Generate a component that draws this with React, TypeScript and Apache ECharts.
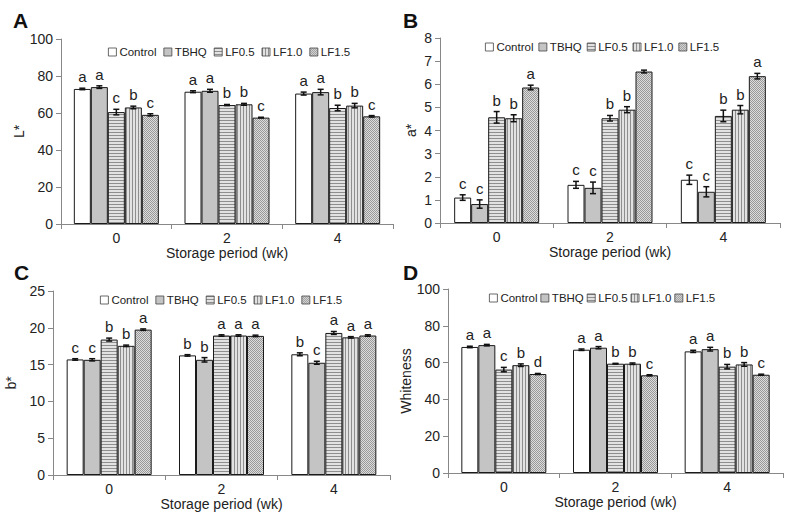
import React, { useEffect, useRef } from 'react';
import * as echarts from 'echarts';

const categories = ['0', '2', '4'];
const seriesNames = ['Control', 'TBHQ', 'LF0.5', 'LF1.0', 'LF1.5'];

// Panel A: L*  (rows = treatments, columns = weeks 0,2,4)
const lMeans = [
  [73.0, 71.5, 70.5],
  [74.0, 72.0, 71.3],
  [60.5, 64.3, 62.7],
  [63.0, 64.7, 64.0],
  [59.0, 57.5, 58.2],
];
const lErrors = [
  [0.4, 0.5, 0.8],
  [0.7, 0.8, 1.5],
  [1.5, 0.3, 1.5],
  [0.7, 0.5, 1.2],
  [0.6, 0.2, 0.4],
];
const lLetters = [
  ['a', 'a', 'a'],
  ['a', 'a', 'a'],
  ['c', 'b', 'b'],
  ['b', 'b', 'b'],
  ['c', 'c', 'c'],
];

// Panel B: a*
const aMeans = [
  [1.1, 1.65, 1.87],
  [0.82, 1.52, 1.35],
  [4.57, 4.53, 4.63],
  [4.53, 4.9, 4.9],
  [5.86, 6.55, 6.35],
];
const aErrors = [
  [0.12, 0.15, 0.2],
  [0.18, 0.25, 0.22],
  [0.25, 0.12, 0.25],
  [0.15, 0.13, 0.18],
  [0.1, 0.06, 0.12],
];
const aLetters = [
  ['c', 'c', 'c'],
  ['c', 'c', 'c'],
  ['b', 'b', 'b'],
  ['b', 'b', 'b'],
  ['a', '', 'a'],
];

// Panel C: b*
const bMeans = [
  [15.7, 16.25, 16.4],
  [15.65, 15.65, 15.25],
  [18.4, 18.95, 19.3],
  [17.55, 18.95, 18.7],
  [19.75, 18.9, 18.95],
];
const bErrors = [
  [0.1, 0.1, 0.2],
  [0.15, 0.3, 0.2],
  [0.2, 0.1, 0.2],
  [0.1, 0.1, 0.1],
  [0.1, 0.1, 0.1],
];
const bLetters = [
  ['c', 'b', 'b'],
  ['c', 'b', 'c'],
  ['b', 'a', 'a'],
  ['b', 'a', 'a'],
  ['a', 'a', 'a'],
];

// Panel D: Whiteness
const wMeans = [
  [68.5, 67.0, 66.1],
  [69.5, 68.1, 67.3],
  [56.2, 59.4, 57.8],
  [58.6, 59.4, 59.0],
  [53.8, 53.1, 53.4],
];
const wErrors = [
  [0.4, 0.4, 0.6],
  [0.4, 0.6, 1.0],
  [1.2, 0.2, 1.2],
  [0.7, 0.4, 1.0],
  [0.3, 0.3, 0.3],
];
const wLetters = [
  ['a', 'a', 'a'],
  ['a', 'a', 'a'],
  ['c', 'b', 'b'],
  ['b', 'b', 'b'],
  ['d', 'c', 'c'],
];

const FONT = 'Arial, "Liberation Sans", sans-serif';
const BAR_W = 17;

function makeCanvas(w: number, h: number, draw: (ctx: CanvasRenderingContext2D) => void) {
  const c = document.createElement('canvas');
  c.width = w;
  c.height = h;
  const ctx = c.getContext('2d')!;
  draw(ctx);
  return { image: c, repeat: 'repeat', imageWidth: w, imageHeight: h } as any;
}

function buildFills() {
  const horiz = makeCanvas(4, 3, (ctx) => {
    ctx.fillStyle = '#e2e2e2';
    ctx.fillRect(0, 0, 4, 3);
    ctx.fillStyle = '#8e8e8e';
    ctx.fillRect(0, 0, 4, 1);
  });
  const vert = makeCanvas(3, 4, (ctx) => {
    ctx.fillStyle = '#e2e2e2';
    ctx.fillRect(0, 0, 3, 4);
    ctx.fillStyle = '#8e8e8e';
    ctx.fillRect(0, 0, 1, 4);
  });
  const checker = makeCanvas(2, 2, (ctx) => {
    ctx.fillStyle = '#dcdcdc';
    ctx.fillRect(0, 0, 2, 2);
    ctx.fillStyle = '#999999';
    ctx.fillRect(0, 0, 1, 1);
    ctx.fillRect(1, 1, 1, 1);
  });
  return ['#ffffff', '#c4c4c4', horiz, vert, checker];
}

type Panel = {
  title: string;
  yName: string;
  min: number;
  max: number;
  interval: number;
  means: number[][];
  errors: number[][];
  letters: string[][];
  grid: { left: number; top: number; width: number; height: number };
  titlePos: { left: number; top: number };
  legendPos: { left: number; top: number; gap: number };
  nameGap: number;
};

const panels: Panel[] = [
  {
    title: 'A', yName: 'L*', min: 0, max: 100, interval: 20,
    means: lMeans, errors: lErrors, letters: lLetters,
    grid: { left: 61, top: 39, width: 332, height: 185 },
    titlePos: { left: 13, top: 10 }, legendPos: { left: 108, top: 46, gap: 7 }, nameGap: 33,
  },
  {
    title: 'B', yName: 'a*', min: 0, max: 8, interval: 1,
    means: aMeans, errors: aErrors, letters: aLetters,
    grid: { left: 440, top: 38, width: 340, height: 185 },
    titlePos: { left: 403, top: 10 }, legendPos: { left: 485, top: 41, gap: 5 }, nameGap: 22,
  },
  {
    title: 'C', yName: 'b*', min: 0, max: 25, interval: 5,
    means: bMeans, errors: bErrors, letters: bLetters,
    grid: { left: 53, top: 291, width: 337, height: 184 },
    titlePos: { left: 14, top: 262 }, legendPos: { left: 100, top: 294, gap: 7 }, nameGap: 35,
  },
  {
    title: 'D', yName: 'Whiteness', min: 0, max: 100, interval: 20,
    means: wMeans, errors: wErrors, letters: wLetters,
    grid: { left: 448, top: 289, width: 335, height: 184 },
    titlePos: { left: 403, top: 262 }, legendPos: { left: 489, top: 292, gap: 3 }, nameGap: 33,
  },
];

export default function App() {
  const ref = useRef<HTMLDivElement>(null);

  useEffect(() => {
    if (!ref.current) return;
    const chart = echarts.init(ref.current, undefined, { renderer: 'svg' });
    const fills = buildFills();

    const series: any[] = [];
    panels.forEach((p, pi) => {
      seriesNames.forEach((name, si) => {
        series.push({
          type: 'bar',
          name,
          xAxisIndex: pi,
          yAxisIndex: pi,
          data: p.means[si],
          barWidth: BAR_W,
          barGap: '0%',
          itemStyle: { color: fills[si], borderColor: '#1a1a1a', borderWidth: 1 },
          emphasis: { disabled: true },
        });
      });
      const errData: number[][] = [];
      const errLetters: string[] = [];
      seriesNames.forEach((_, si) => {
        categories.forEach((_c, ci) => {
          errData.push([ci, si, p.means[si][ci], p.errors[si][ci]]);
          errLetters.push(p.letters[si][ci]);
        });
      });
      series.push({
        type: 'custom',
        name: 'err' + pi,
        xAxisIndex: pi,
        yAxisIndex: pi,
        z: 10,
        silent: true,
        data: errData,
        encode: { x: 0, y: 2 },
        renderItem: (params: any, api: any) => {
          const ci = api.value(0);
          const si = api.value(1);
          const v = api.value(2);
          const e = api.value(3);
          const c = api.coord([ci, v]);
          const x = c[0] + (si - 2) * BAR_W;
          const yt = api.coord([ci, v + e])[1];
          const yb = api.coord([ci, v - e])[1];
          const st = { stroke: '#111', lineWidth: 1.5 };
          const children: any[] = [
            { type: 'line', shape: { x1: x, y1: yt, x2: x, y2: yb }, style: st },
            { type: 'line', shape: { x1: x - 3, y1: yt, x2: x + 3, y2: yt }, style: st },
            { type: 'line', shape: { x1: x - 3, y1: yb, x2: x + 3, y2: yb }, style: st },
          ];
          const letter = errLetters[params.dataIndex];
          if (letter) {
            children.push({
              type: 'text',
              style: {
                text: letter, x, y: yt - 4, align: 'center', verticalAlign: 'bottom',
                fontSize: 15, fontFamily: FONT, fill: '#222',
              },
            });
          }
          return { type: 'group', children };
        },
      });
    });

    const option: any = {
      animation: false,
      backgroundColor: '#ffffff',
      title: panels.map((p) => ({
        text: p.title,
        left: p.titlePos.left,
        top: p.titlePos.top,
        padding: 0,
        textStyle: { fontSize: 21, fontWeight: 'bold', fontFamily: FONT, color: '#111' },
      })),
      legend: panels.map((p) => ({
        data: seriesNames,
        left: p.legendPos.left,
        top: p.legendPos.top,
        padding: 0,
        icon: 'rect',
        itemWidth: 8,
        itemHeight: 8,
        itemGap: p.legendPos.gap,
        selectedMode: false,
        itemStyle: { borderColor: '#444', borderWidth: 0.8 },
        textStyle: { fontSize: 11.5, fontFamily: FONT, color: '#222', padding: [0, 0, 0, -2] },
      })),
      grid: panels.map((p) => ({ ...p.grid, containLabel: false })),
      xAxis: panels.map((_p, pi) => ({
        type: 'category',
        gridIndex: pi,
        data: categories,
        name: 'Storage period (wk)',
        nameLocation: 'middle',
        nameGap: 21,
        nameTextStyle: { fontSize: 14, fontFamily: FONT, color: '#222' },
        axisLine: { lineStyle: { color: '#888', width: 1 } },
        axisTick: { show: true, length: 5, lineStyle: { color: '#888' } },
        axisLabel: { fontSize: 14, fontFamily: FONT, color: '#222', margin: 7 },
      })),
      yAxis: panels.map((p, pi) => ({
        type: 'value',
        gridIndex: pi,
        min: p.min,
        max: p.max,
        interval: p.interval,
        name: p.yName,
        nameLocation: 'middle',
        nameGap: p.nameGap,
        nameRotate: 90,
        nameTextStyle: { fontSize: 14, fontFamily: FONT, color: '#222' },
        axisLine: { show: true, lineStyle: { color: '#888', width: 1 } },
        axisTick: { show: true, length: 5, lineStyle: { color: '#888' } },
        axisLabel: { fontSize: 14, fontFamily: FONT, color: '#222', margin: 8 },
        splitLine: { show: false },
      })),
      series,
    };
    chart.setOption(option);
    return () => chart.dispose();
  }, []);

  return (
    <div
      ref={ref}
      style={{ position: 'fixed', left: 0, top: 0, width: 794, height: 522, background: '#fff' }}
    />
  );
}
